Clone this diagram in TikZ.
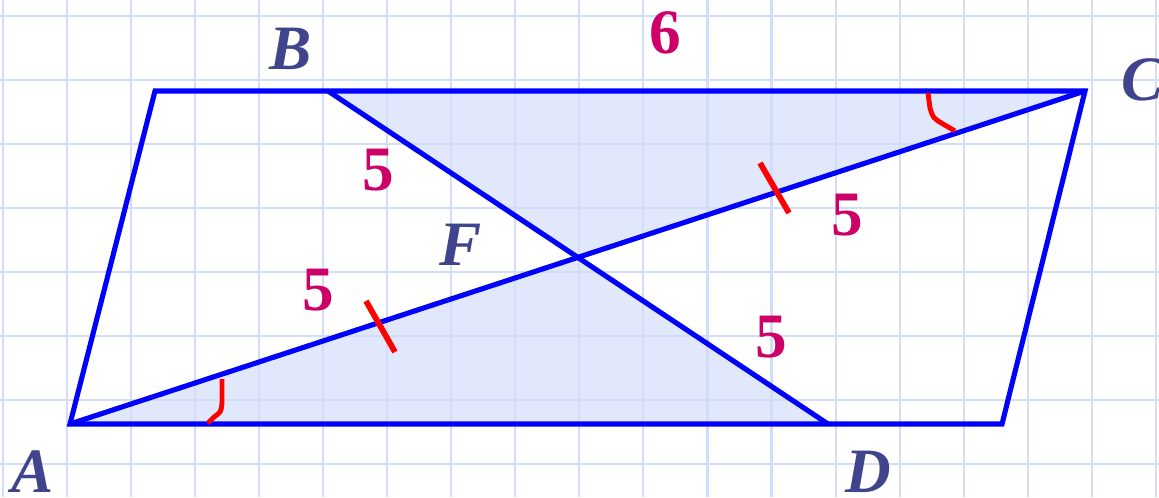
\documentclass[tikz,border=0pt]{standalone}
\usepackage{fontspec}
\setmainfont{Liberation Serif}
\definecolor{gridline}{HTML}{D2DDFA}
\definecolor{halffill}{HTML}{E1E8FB}
\definecolor{edge}{HTML}{0000FF}
\definecolor{vertex}{HTML}{40448C}
\definecolor{measure}{HTML}{CC0066}
\definecolor{mark}{HTML}{FF0000}

\begin{document}
\begin{tikzpicture}[x=0.02cm,y=-0.02cm,
  vert/.style={inner sep=0pt,text=vertex,font=\fontsize{36}{36}\selectfont\bfseries\itshape},
  len/.style={inner sep=0pt,text=measure,font=\fontsize{36}{36}\selectfont\bfseries},
  side/.style={draw=edge,line width=2.9pt},
  tickmark/.style={draw=mark,line width=3.3pt},
  anglemark/.style={draw=mark,line width=2.8pt}]
  \useasboundingbox (0,0) rectangle (1159,497);
  \coordinate (A) at (70,424); \coordinate (D) at (828,424); \coordinate (E) at (1002,424);
  \coordinate (G) at (155,91); \coordinate (B) at (328,91); \coordinate (C) at (1085,91);
  \coordinate (X) at (intersection of A--C and B--D);
  \fill[halffill] (A) -- (X) -- (D) -- cycle; \fill[halffill] (B) -- (C) -- (X) -- cycle;
  \foreach \i in {0,...,18} \draw[gridline,line width=1.2pt] ({2.7+64.07*\i},0) -- ({2.7+64.07*\i},497);
  \foreach \j in {0,...,7} \draw[gridline,line width=1.2pt] (0,{15.7+64*\j}) -- (1159,{15.7+64*\j});
  \draw[side] (A) -- (G) -- (C) -- (E) -- cycle; \draw[side] (A) -- (C); \draw[side] (B) -- (D);
  \draw[tickmark] (366,301) -- (395,352); \draw[tickmark] (760,163) -- (789,213);
  \draw[anglemark] (222,379) -- (222,403) .. controls (221,412) .. (214,417) -- (208,423);
  \draw[anglemark] (928,93) -- (930,108) .. controls (933,118) .. (943,124) -- (955,131);
  \node[vert] (labA) at (33,472) {A}; \node[vert] (labB) at (291,49) {B};
  \node[vert] (labC) at (1143,80) {C}; \node[vert] (labD) at (868,472) {D};
  \node[vert] (labF) at (461,245) {F};
  \node[len] (lenBC) at (665,33) {6};
  \node[len] (lenBX) at (378,170) {5}; \node[len] (lenAX) at (318,290) {5};
  \node[len] (lenXC) at (847,215) {5}; \node[len] (lenXD) at (771,337) {5};
\end{tikzpicture}
\end{document}
